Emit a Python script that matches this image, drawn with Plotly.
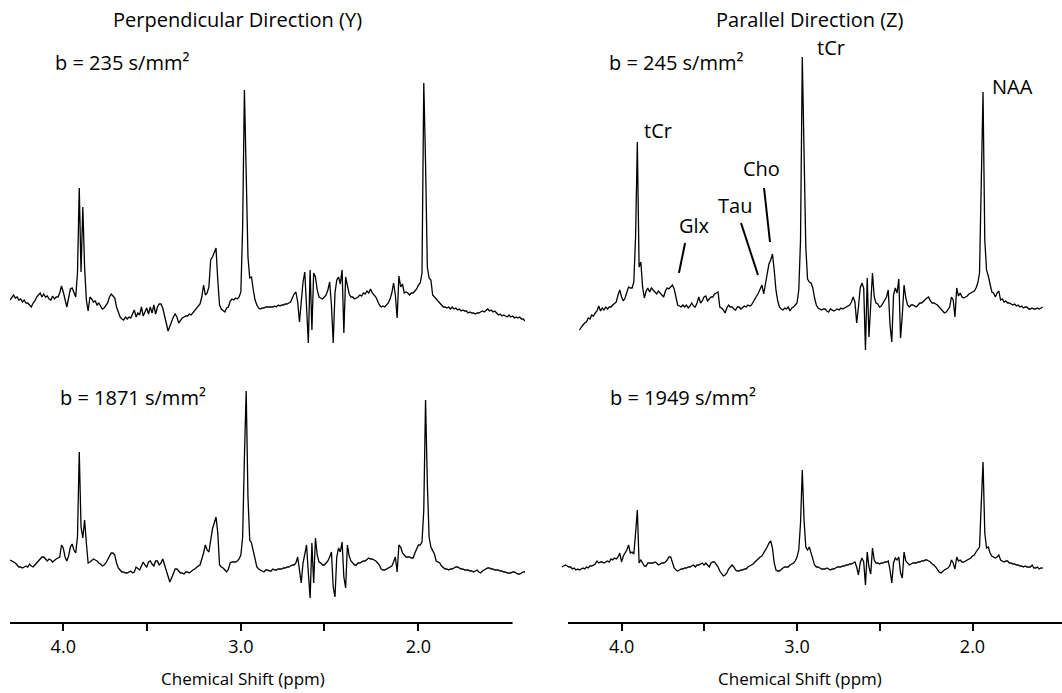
import numpy as np
import plotly.graph_objects as go

W, H = 1062, 693
FONT = "Open Sans"

# chemical-shift sampling grids (ppm), 0.01 ppm steps
ppm_left = np.round(np.arange(430, 139, -1) / 100, 2)        # 4.30 .. 1.40
ppm_right_top = np.round(np.arange(424, 159, -1) / 100, 2)   # 4.24 .. 1.60
ppm_right_bot = np.round(np.arange(434, 159, -1) / 100, 2)   # 4.34 .. 1.60

# Perpendicular direction (Y), b = 235 s/mm2  (arbitrary units)
perp_b235 = [
    0, 3, 5, 2, 3, 0, 1, -2, 0, -3,
    -3, -5, -7, -3, -1, 3, 5, 7, 3, 6,
    3, 4, 1, 0, 4, 1, 3, 3, 7, 14,
    8, 0, -7, 2, 11, 12, 7, 3, 27, 112,
    28, 93, 33, 0, -11, 3, 1, -2, -1, -5,
    -3, -6, -9, -8, -5, -3, 3, 6, 4, 2,
    -7, -13, -17, -19, -20, -17, -19, -17, -18, -14,
    -10, -17, -13, -15, -7, -16, -11, -8, -14, -7,
    -13, -5, -14, -7, -4, -4, -8, -17, -23, -31,
    -26, -22, -17, -14, -17, -23, -20, -18, -17, -16,
    -16, -14, -15, -13, -11, -8, -7, -4, 3, 15,
    5, 7, 13, 40, 43, 48, 52, 20, -5, -9,
    -11, -12, -8, -7, -1, 1, 0, 2, 1, 3,
    8, 73, 210, 123, 43, 22, 23, 10, 0, -5,
    -8, -9, -8, -8, -7, -7, -7, -7, -7, -6,
    -7, -5, -6, -5, -5, -4, -4, -3, -2, 2,
    6, 8, -2, -22, 0, 18, 28, -13, -43, 30,
    -30, 27, 23, 10, 3, 2, 1, 3, 5, 10,
    18, -5, -43, 7, 20, 23, 16, 30, -33, 23,
    13, 6, 3, 3, 1, 2, 3, 5, 4, 7,
    6, 9, 7, 11, 7, 5, 3, -1, -5, -7,
    -6, -7, -5, -3, 1, 7, 17, 5, -18, 24,
    13, 16, 7, 8, 7, 5, 7, 7, 9, 11,
    15, 17, 27, 217, 137, 33, 22, 20, 5, 3,
    2, 0, -2, -5, -7, -7, -8, -7, -9, -7,
    -9, -8, -10, -9, -11, -10, -11, -11, -13, -12,
    -13, -13, -14, -13, -13, -12, -11, -12, -10, -9,
    -11, -10, -12, -11, -13, -15, -14, -16, -15, -16,
    -17, -15, -17, -16, -18, -17, -18, -17, -19, -19,
    -21,
]

# Perpendicular direction (Y), b = 1871 s/mm2
perp_b1871 = [
    10, 9, 8, 7, 5, 3, 3, 2, 3, 4,
    3, 6, 4, 3, 5, 7, 9, 12, 13, 13,
    11, 9, 11, 10, 8, 10, 11, 12, 13, 25,
    22, 13, 9, 14, 23, 26, 20, 17, 33, 118,
    43, 32, 50, 27, 7, 8, 10, 11, 10, 9,
    7, 6, 4, 5, 7, 10, 14, 17, 17, 15,
    7, 2, 0, -2, -2, -3, -3, -2, -1, -3,
    -2, 3, 1, 0, 4, 8, 5, 3, 8, 9,
    6, 4, 9, 9, 5, 7, 11, 5, 0, -5,
    -12, -8, -3, 1, 1, -1, -3, -3, -4, -2,
    -2, -3, -1, 0, 1, 3, 4, 5, 10, 17,
    25, 20, 18, 30, 41, 47, 53, 37, 5, 3,
    2, 0, -2, 1, 7, 8, 8, 8, 9, 11,
    15, 33, 113, 179, 73, 30, 27, 20, 10, 3,
    1, 0, -1, -2, 0, 0, -1, -1, 1, 0,
    0, 1, 1, 1, 2, 2, 3, 3, 4, 5,
    5, 7, 13, 0, -13, 7, 17, 25, -3, -28,
    27, -13, 32, 15, 8, 7, 5, 5, 7, 9,
    13, 18, -17, -27, 13, 22, 18, 28, -7, -18,
    25, 14, 9, 7, 5, 5, 7, 7, 8, 9,
    9, 11, 12, 11, 11, 10, 9, 7, 5, 1,
    0, 0, 1, 2, 3, 4, 8, 13, -2, 25,
    23, 17, 15, 13, 13, 13, 12, 12, 17, 22,
    25, 25, 28, 60, 170, 87, 33, 23, 19, 16,
    9, 8, 7, 4, 2, 1, 1, 0, 1, 1,
    2, 3, 3, 2, 1, 1, 0, 0, 0, -1,
    -1, -2, -1, 0, -2, -3, -1, 0, 1, 2,
    2, 1, 1, 0, 0, 0, -1, -1, -2, -2,
    -3, -3, -3, -2, -2, -3, -4, -4, -3, -2,
    -2,
]

# Parallel direction (Z), b = 245 s/mm2
par_b245 = [
    -30, -27, -25, -23, -22, -18, -19, -15, -16, -13,
    -11, -6, -11, -8, -10, -7, -9, -7, -7, -5,
    -3, -2, 5, 10, 3, -1, 2, 9, 13, 12,
    12, 18, 63, 158, 33, 38, 13, 2, 9, 12,
    8, 12, 10, 7, 6, 9, 7, 5, 3, 9,
    12, 11, 13, 15, 11, 3, -5, -6, -7, -5,
    -7, -5, -8, -6, -3, -6, -7, -3, 3, -3,
    -1, 3, 4, -1, 1, 3, 3, 6, 7, 8,
    -7, -8, -10, -13, -8, -5, -7, -7, -9, -10,
    -7, -7, -9, -7, -6, -7, -5, -6, -5, -2,
    1, 3, 7, 11, 15, 6, 17, 28, 36, 40,
    46, 30, 10, -1, -7, -9, -10, -8, -9, -7,
    -11, -8, -7, -5, -3, 10, 60, 243, 153, 53,
    21, 18, 17, 12, 2, -5, -8, -9, -10, -9,
    -9, -11, -12, -9, -10, -11, -10, -9, -10, -8,
    -9, -8, -7, -6, -5, -2, 3, -2, -23, -7,
    12, 17, 12, -50, 22, -37, -10, 27, 3, -3,
    -4, -7, -6, -3, 0, 3, 10, -25, -42, 5,
    12, 7, 21, -38, -15, 15, 2, -5, -7, -5,
    -5, -6, -7, -5, -3, -3, -1, 1, 2, 3,
    -1, -3, -3, -4, -5, -7, -9, -12, -13, -12,
    -10, -7, 3, 0, -17, 12, 4, 7, 3, 2,
    3, 4, 6, 7, 8, 9, 12, 17, 27, 117,
    208, 60, 30, 24, 17, 8, 7, 3, 7, 9,
    0, 1, -2, -1, -3, -3, -4, -5, -4, -6,
    -5, -7, -6, -8, -7, -7, -9, -9, -8, -9,
    -9, -8, -9, -8, -7,
]

# Parallel direction (Z), b = 1949 s/mm2
par_b1949 = [
    3, 4, 5, 4, 3, 3, 1, 2, 0, 1,
    0, 1, 2, 1, 3, 2, 4, 4, 5, 6,
    9, 7, 8, 8, 7, 8, 9, 8, 11, 10,
    12, 11, 13, 17, 8, 14, 17, 20, 25, 17,
    18, 16, 37, 60, 7, 10, 7, 4, 4, 7,
    7, 7, 7, 8, 7, 5, 6, 7, 7, 8,
    10, 13, 13, 7, 2, 0, -1, 0, 1, 1,
    2, 2, 3, 3, 4, 5, 3, 5, 5, 6,
    7, 5, 7, 5, 3, 7, 8, 8, 6, 3,
    -1, -4, -6, -5, -3, 1, 3, 5, 3, 0,
    -1, -1, 0, 0, 1, 1, 3, 4, 5, 6,
    8, 10, 12, 13, 14, 17, 19, 23, 27, 29,
    22, 7, 0, -1, -1, 1, 2, 3, 3, 3,
    5, 6, 7, 9, 13, 20, 47, 100, 50, 23,
    20, 23, 17, 9, 5, 3, 3, 2, 1, 1,
    1, 2, 1, 0, 1, 1, 2, 3, 3, 3,
    4, 4, 5, 5, 6, 6, 7, 8, 3, -5,
    7, 12, 8, -15, 18, 3, -4, 22, 10, 7,
    7, 6, 7, 7, 8, 8, 9, 0, -13, 7,
    12, 10, 13, -3, -8, 18, 9, 7, 5, 6,
    7, 7, 7, 8, 8, 9, 9, 10, 10, 9,
    8, 6, 5, 3, 0, -2, -3, -1, 0, 1,
    2, 4, 10, 7, 1, 13, 9, 10, 8, 8,
    9, 10, 11, 12, 14, 15, 18, 20, 23, 67,
    108, 37, 22, 23, 17, 14, 13, 12, 13, 15,
    10, 9, 8, 9, 9, 7, 7, 6, 6, 5,
    5, 4, 4, 3, 4, 3, 3, 3, 5, 2,
    2, 3, 1, 2, 2,
]

major_ticks = [4.0, 3.0, 2.0]
major_text = ["4.0", "3.0", "2.0"]
minor_ticks = [3.53, 2.53]

b_labels = ["b = 235 s/mm²", "b = 1871 s/mm²", "b = 245 s/mm²", "b = 1949 s/mm²"]
titles = ["Perpendicular Direction (Y)", "Parallel Direction (Z)"]
metab_labels = ["tCr", "Glx", "Tau", "Cho", "tCr", "NAA"]
metab_pos = [(3.792, 170), (3.587, 75), (3.354, 95), (3.200, 132), (2.807, 252), (1.770, 213)]
pointer_lines = [((3.638, 57), (3.673, 27)), ((3.319, 77), (3.2225, 25)), ((3.188, 112), (3.154, 58))]

fig = go.Figure()
line = dict(color="black", width=1.3)
for xs, ys, xa, ya in [(ppm_left, perp_b235, "x", "y"), (ppm_left, perp_b1871, "x", "y2"),
                       (ppm_right_top, par_b245, "x2", "y3"), (ppm_right_bot, par_b1949, "x2", "y4")]:
    fig.add_trace(go.Scatter(x=xs, y=ys, xaxis=xa, yaxis=ya, mode="lines", line=line,
                             hoverinfo="skip", showlegend=False))

def px(x):
    return x / W

def py(y):
    return 1 - y / H

xcommon = dict(tickvals=major_ticks, ticktext=major_text, ticks="outside", ticklen=7, tickwidth=2,
               tickcolor="black", showline=False, showgrid=False, zeroline=False,
               tickfont=dict(family=FONT, size=18, color="black"),
               minor=dict(tickvals=minor_ticks, ticks="outside", ticklen=7, tickwidth=2,
                          tickcolor="black", showgrid=False))
top_dom = [py(360), py(30)]
bot_dom = [py(623), py(360)]

fig.update_layout(
    width=W, height=H, margin=dict(l=0, r=0, t=0, b=0),
    paper_bgcolor="white", plot_bgcolor="white", showlegend=False,
    xaxis=dict(domain=[px(10), px(525)], range=[4.30, 1.40], anchor="y2", **xcommon),
    xaxis2=dict(domain=[px(561), 1.0], range=[4.345, 1.49], anchor="y4", **xcommon),
    yaxis=dict(domain=top_dom, range=[-60, 270], visible=False, anchor="x"),
    yaxis2=dict(domain=bot_dom, range=[-53, 210], visible=False, anchor="x"),
    yaxis3=dict(domain=top_dom, range=[-60, 270], visible=False, anchor="x2"),
    yaxis4=dict(domain=bot_dom, range=[-53, 210], visible=False, anchor="x2"),
)

ann = []
ann.append(dict(x=px(237), y=py(20), text=titles[0], font=dict(size=20)))
ann.append(dict(x=px(810), y=py(20), text=titles[1], font=dict(size=20)))
for txt, (lx, ly) in zip(b_labels, [(53, 62), (58, 397), (607, 62), (608, 397)]):
    ann.append(dict(x=px(lx), y=py(ly), text=txt, xanchor="left", font=dict(size=20)))
for cx in (243, 800):
    ann.append(dict(x=px(cx), y=py(678), text="Chemical Shift (ppm)", font=dict(size=17)))
for a in ann:
    a.update(xref="paper", yref="paper", showarrow=False, yanchor="middle")
    a.setdefault("xanchor", "center")
    a["font"].update(family=FONT, color="black")
for txt, (mx, my) in zip(metab_labels, metab_pos):
    ann.append(dict(x=mx, y=my, xref="x2", yref="y3", text=txt, showarrow=False,
                    xanchor="center", yanchor="middle", font=dict(family=FONT, size=20, color="black")))
fig.update_layout(annotations=ann)

shapes = [
    dict(type="line", xref="x", yref="paper", x0=4.30, x1=1.47, y0=py(623), y1=py(623),
         line=dict(color="black", width=2)),
    dict(type="line", xref="x2", yref="paper", x0=4.305, x1=1.49, y0=py(623), y1=py(623),
         line=dict(color="black", width=2)),
]
for (a0, a1) in pointer_lines:
    shapes.append(dict(type="line", xref="x2", yref="y3", x0=a0[0], y0=a0[1], x1=a1[0], y1=a1[1],
                       line=dict(color="black", width=2)))
fig.update_layout(shapes=shapes)

fig.write_html("out.html", config={"displayModeBar": False},
               post_script="document.body.style.margin='0px';")
